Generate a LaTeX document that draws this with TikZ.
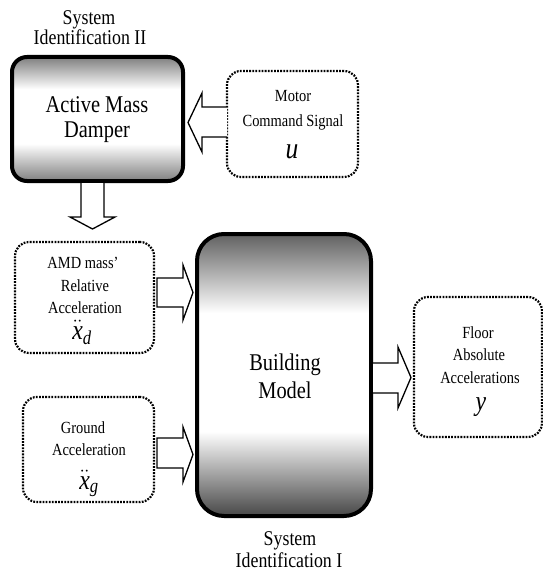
\documentclass[tikz,border=0pt]{standalone}
\usepackage{amsmath}
\usepackage{fontspec}
\setmainfont[FakeStretch=0.85]{Liberation Serif}
\pgfdeclareverticalshading{amdshade}{100bp}{color(0bp)=(black!50); color(25bp)=(black!50); color(40bp)=(white); color(62bp)=(white); color(75bp)=(black!50); color(100bp)=(black!50)}
\pgfdeclareverticalshading{bldshade}{100bp}{color(0bp)=(black!72); color(25bp)=(black!72); color(40bp)=(white); color(61bp)=(white); color(75bp)=(black!62); color(100bp)=(black!62)}
\tikzset{
  solidbox/.style={draw, line width=4pt, rounded corners=#1, inner sep=0pt},
  dotbox/.style={draw, line width=2.2pt, dash pattern=on 1.8pt off 1.3pt, rounded corners=14pt, inner sep=0pt},
  blockarrow/.style={draw, line width=1.3pt, fill=white, line join=miter},
  small/.style={font=\fontsize{17}{23}\selectfont, inner sep=0pt, anchor=base},
  big/.style={font=\fontsize{24}{27}\selectfont, inner sep=0pt, anchor=base},
  caption/.style={font=\fontsize{21}{25}\selectfont, inner sep=0pt, anchor=base},
  var/.style={font=\fontsize{28}{30}\selectfont, inner sep=0pt, anchor=base},
}
\begin{document}
\begin{tikzpicture}[x=1pt,y=-1pt]
\useasboundingbox (0,0) rectangle (542,575);

% main boxes
\node[solidbox=15pt, shading=amdshade, minimum width=171pt, minimum height=124pt] (amd) at (97.5,119) {};
\node[solidbox=27pt, shading=bldshade, minimum width=174pt, minimum height=282pt] (bld) at (284,375) {};

% dotted boxes
\node[dotbox, minimum width=131pt, minimum height=106pt] (motor) at (292.5,124) {};
\node[dotbox, minimum width=139pt, minimum height=111pt] (amdmass) at (84.5,297.5) {};
\node[dotbox, minimum width=131pt, minimum height=105pt] (ground) at (88.5,449.5) {};
\node[dotbox, minimum width=128pt, minimum height=140pt] (floor) at (478,367) {};

% block arrows
\path[blockarrow] (227,107) -- (202,107) -- (202,93) -- (188,122.5) -- (202,152) -- (202,137) -- (227,137);
\path[blockarrow] (81,183) -- (81,217) -- (70,217) -- (92.5,229) -- (115,217) -- (104,217) -- (104,183);
\path[blockarrow] (157,278) -- (183,278) -- (183,265) -- (193,292.5) -- (183,320) -- (183,307) -- (157,307) -- cycle;
\path[blockarrow] (157,438) -- (183,438) -- (183,427) -- (193,454.5) -- (183,482) -- (183,468) -- (157,468) -- cycle;
\path[blockarrow] (373,363) -- (398,363) -- (398,347) -- (411,377.5) -- (398,408) -- (398,393) -- (373,393);

% texts
\node[caption] (cap2a) at (89,25) {System};
\node[caption] (cap2b) at (90,45) {Identification II};
\node[big] (amdt1) at (97,113) {Active Mass};
\node[big] (amdt2) at (97,138) {Damper};

\node[small] (mot1) at (293,102) {Motor};
\node[small] (mot2) at (293,126) {Command Signal};
\node[var, font=\fontsize{30}{32}\selectfont] (mot3) at (292,158) {\itshape u};

\node[small] (am1) at (83,268) {AMD mass'};
\node[small] (am2) at (85,291) {Relative};
\node[small] (am3) at (85,313) {Acceleration};
\node[var] (am4) at (82,339) {$\ddot{\text{\itshape x}}_{\text{\itshape d}}$};

\node[small] (gr1) at (83,433) {Ground};
\node[small] (gr2) at (89,455) {Acceleration};
\node[var] (gr3) at (89,489) {$\ddot{\text{\itshape x}}_{\text{\itshape g}}$};

\node[big] (b1) at (285,370) {Building};
\node[big] (b2) at (285,398) {Model};

\node[small] (fl1) at (478,338) {Floor};
\node[small] (fl2) at (479,360) {Absolute};
\node[small] (fl3) at (480,383) {Accelerations};
\node[var] (fl4) at (481,410) {\itshape y};

\node[caption] (cap1a) at (290,545) {System};
\node[caption] (cap1b) at (289,567) {Identification I};
\end{tikzpicture}
\end{document}
